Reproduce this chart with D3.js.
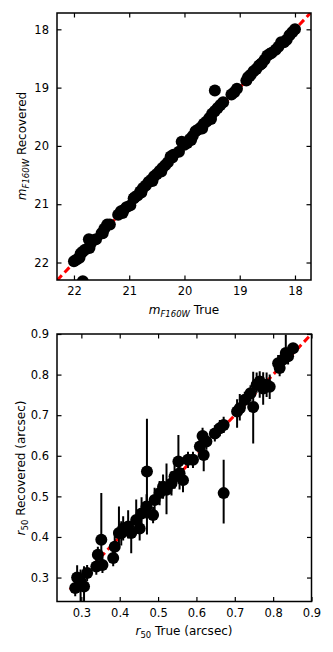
<!DOCTYPE html>
<html lang="en">
<head>
<meta charset="UTF-8">
<title>Recovered vs True</title>
<style>
  body { margin: 0; background: #fff; }
  svg { display: block; font-family: "DejaVu Sans", sans-serif; }
  .axlabel { font-size: 12px; fill: #000; }
</style>
</head>
<body>
<svg id="chart" width="333" height="652"></svg>
<script src="https://cdn.jsdelivr.net/npm/d3@7"></script>
<script>
// top panel: magnitudes (true, recovered)
const magTrue = [22.0, 21.95, 21.88, 21.85, 21.8, 21.73, 21.72, 21.7, 21.65, 21.5, 21.45, 21.4, 21.35,
  21.2, 21.15, 21.1, 21.05, 20.98, 20.9, 20.85, 20.8, 20.75, 20.7, 20.65, 20.6, 20.55, 20.5, 20.45,
  20.4, 20.35, 20.3, 20.25, 20.2, 20.1, 20.05, 20.0, 19.95, 19.9, 19.85, 19.8, 19.75, 19.7, 19.65,
  19.6, 19.55, 19.5, 19.45, 19.4, 19.35, 19.3, 19.45, 19.15, 19.1, 19.05, 18.88, 18.85, 18.8, 18.75,
  18.7, 18.65, 18.6, 18.55, 18.5, 18.45, 18.35, 18.3, 18.2, 18.15, 18.1, 18.05, 18.0, 21.84,
  21.9, 21.6, 21.48, 21.12, 20.92, 20.78, 20.58, 20.42, 20.22, 19.88, 19.68, 19.52, 18.82, 18.62, 18.42, 18.25];
const magRec = [21.98, 21.95, 21.85, 21.82, 21.78, 21.6, 21.75, 21.68, 21.62, 21.5, 21.42, 21.35, 21.35,
  21.18, 21.12, 21.1, 21.05, 21.02, 20.88, 20.85, 20.78, 20.72, 20.68, 20.62, 20.58, 20.52, 20.48, 20.43,
  20.38, 20.33, 20.28, 20.18, 20.15, 20.1, 19.93, 19.98, 19.95, 19.88, 19.83, 19.75, 19.72, 19.68, 19.62,
  19.58, 19.52, 19.45, 19.4, 19.35, 19.3, 19.25, 19.05, 19.12, 19.08, 19.02, 18.88, 18.82, 18.78, 18.72,
  18.68, 18.62, 18.58, 18.52, 18.45, 18.42, 18.35, 18.3, 18.22, 18.18, 18.1, 18.05, 18.0, 22.32,
  21.92, 21.6, 21.5, 21.15, 20.9, 20.8, 20.6, 20.44, 20.2, 19.9, 19.7, 19.54, 18.8, 18.6, 18.4, 18.22];
const magTicks = [22, 21, 20, 19, 18];

// bottom panel: half-light radius (true, recovered, error below, error above)
const rTrue = [0.284, 0.289, 0.298, 0.307, 0.315, 0.339, 0.343, 0.352, 0.355, 0.383, 0.387, 0.398, 0.404,
  0.409, 0.422, 0.43, 0.443, 0.452, 0.457, 0.47, 0.471, 0.487, 0.491, 0.504, 0.513, 0.522, 0.535, 0.543,
  0.553, 0.556, 0.565, 0.578, 0.591, 0.609, 0.616, 0.619, 0.626, 0.648, 0.661, 0.671, 0.671, 0.706,
  0.713, 0.726, 0.741, 0.748, 0.757, 0.765, 0.774, 0.783, 0.791, 0.813, 0.817, 0.826, 0.833, 0.839, 0.852];
const rRec = [0.274, 0.300, 0.290, 0.278, 0.311, 0.327, 0.356, 0.393, 0.331, 0.348, 0.376, 0.410, 0.409,
  0.421, 0.426, 0.410, 0.442, 0.421, 0.458, 0.475, 0.561, 0.454, 0.491, 0.508, 0.524, 0.516, 0.532, 0.549,
  0.586, 0.557, 0.540, 0.590, 0.590, 0.623, 0.649, 0.602, 0.635, 0.655, 0.668, 0.508, 0.676, 0.709,
  0.717, 0.738, 0.754, 0.720, 0.775, 0.783, 0.766, 0.775, 0.770, 0.828, 0.816, 0.837, 0.853, 0.845, 0.865];
const rErrLo = [0.02, 0.03, 0.06, 0.04, 0.02, 0.02, 0.02, 0.06, 0.02, 0.02, 0.03, 0.04, 0.03,
  0.03, 0.03, 0.05, 0.03, 0.03, 0.03, 0.03, 0.155, 0.02, 0.03, 0.03, 0.03, 0.06, 0.03, 0.03,
  0.05, 0.04, 0.03, 0.02, 0.02, 0.02, 0.02, 0.04, 0.02, 0.02, 0.02, 0.075, 0.02, 0.04,
  0.03, 0.02, 0.02, 0.09, 0.02, 0.04, 0.04, 0.03, 0.03, 0.02, 0.02, 0.02, 0.02, 0.02, 0.01];
const rErrHi = [0.02, 0.03, 0.03, 0.05, 0.02, 0.02, 0.02, 0.115, 0.02, 0.03, 0.04, 0.065, 0.03,
  0.03, 0.04, 0.03, 0.05, 0.03, 0.04, 0.03, 0.13, 0.02, 0.03, 0.03, 0.03, 0.065, 0.03, 0.03,
  0.065, 0.03, 0.03, 0.02, 0.02, 0.02, 0.02, 0.02, 0.02, 0.02, 0.02, 0.082, 0.02, 0.03,
  0.035, 0.02, 0.02, 0.087, 0.03, 0.025, 0.04, 0.03, 0.03, 0.02, 0.02, 0.02, 0.045, 0.02, 0.01];
const rTicks = [0.3, 0.4, 0.5, 0.6, 0.7, 0.8, 0.9];

// extent of the dashed one-to-one line in each panel
const magLine = [22.307, 17.71];
const rLine = [0.27, 0.9];

const svg = d3.select("#chart");

function drawPanel(cfg) {
  const { left, right, top, bottom, xDomain, yDomain, ticks, fmt, id, line } = cfg;
  const x = d3.scaleLinear().domain(xDomain).range([left, right]);
  const y = d3.scaleLinear().domain(yDomain).range([bottom, top]);

  svg.append("clipPath").attr("id", id)
    .append("rect").attr("x", left).attr("y", top)
    .attr("width", right - left).attr("height", bottom - top);

  const g = svg.append("g").attr("clip-path", `url(#${id})`);

  // one-to-one line
  g.append("line")
    .attr("x1", x(line[0])).attr("y1", y(line[0]))
    .attr("x2", x(line[1])).attr("y2", y(line[1]))
    .attr("stroke", "#ff0000").attr("stroke-width", 3)
    .attr("stroke-dasharray", "7,4");

  // axes with inward ticks on all sides
  const tickLen = 4.5;
  svg.append("g").attr("class", "axis").attr("transform", `translate(0,${bottom})`)
    .call(d3.axisBottom(x).tickValues(ticks).tickFormat(fmt).tickSizeInner(-tickLen).tickSizeOuter(0).tickPadding(7));
  svg.append("g").attr("class", "axis").attr("transform", `translate(0,${top})`)
    .call(d3.axisTop(x).tickValues(ticks).tickFormat("").tickSizeInner(-tickLen).tickSizeOuter(0));
  svg.append("g").attr("class", "axis").attr("transform", `translate(${left},0)`)
    .call(d3.axisLeft(y).tickValues(ticks).tickFormat(fmt).tickSizeInner(-tickLen).tickSizeOuter(0).tickPadding(8));
  svg.append("g").attr("class", "axis").attr("transform", `translate(${right},0)`)
    .call(d3.axisRight(y).tickValues(ticks).tickFormat("").tickSizeInner(-tickLen).tickSizeOuter(0));

  svg.selectAll(".axis .domain").remove();
  svg.selectAll(".axis line").attr("stroke", "#000").attr("stroke-width", 1.2);
  svg.selectAll(".axis text").attr("font-family", "DejaVu Sans").attr("font-size", "11.5px").attr("fill", "#000");

  svg.append("rect").attr("x", left).attr("y", top)
    .attr("width", right - left).attr("height", bottom - top)
    .attr("fill", "none").attr("stroke", "#000").attr("stroke-width", 1.5);

  return { x, y, g };
}

// top panel
const p1 = drawPanel({
  id: "clipTop", left: 57, right: 311, top: 13, bottom: 280,
  xDomain: [22.307, 17.71], yDomain: [22.30, 17.72],
  ticks: magTicks, fmt: d3.format("d"), line: magLine
});
p1.g.selectAll("circle.mag")
  .data(magTrue.map((d, i) => [d, magRec[i]]))
  .join("circle").attr("class", "mag")
  .attr("cx", d => p1.x(d[0])).attr("cy", d => p1.y(d[1]))
  .attr("r", 6).attr("fill", "#000");

// bottom panel
const p2 = drawPanel({
  id: "clipBot", left: 57, right: 311.5, top: 334, bottom: 601.5,
  xDomain: [0.2365, 0.9], yDomain: [0.241, 0.9],
  ticks: rTicks, fmt: d3.format(".1f"), line: rLine
});
const rData = rTrue.map((d, i) => ({ t: d, r: rRec[i], lo: rErrLo[i], hi: rErrHi[i] }));
p2.g.selectAll("line.err")
  .data(rData).join("line").attr("class", "err")
  .attr("x1", d => p2.x(d.t)).attr("x2", d => p2.x(d.t))
  .attr("y1", d => p2.y(d.r - d.lo)).attr("y2", d => p2.y(d.r + d.hi))
  .attr("stroke", "#000").attr("stroke-width", 2);
p2.g.selectAll("circle.rad")
  .data(rData).join("circle").attr("class", "rad")
  .attr("cx", d => p2.x(d.t)).attr("cy", d => p2.y(d.r))
  .attr("r", 6).attr("fill", "#000");

// axis labels
function magLabel(sel, suffix) {
  sel.append("tspan").attr("font-style", "italic").text("m");
  sel.append("tspan").attr("font-style", "italic").attr("font-size", "8.5px").attr("dy", 3).text("F160W");
  sel.append("tspan").attr("dy", -3).text(" " + suffix);
}
function radLabel(sel, suffix) {
  sel.append("tspan").attr("font-style", "italic").text("r");
  sel.append("tspan").attr("font-size", "8.5px").attr("dy", 3).text("50");
  sel.append("tspan").attr("dy", -3).text(" " + suffix);
}

svg.append("text").attr("class", "axlabel").attr("text-anchor", "middle")
  .attr("x", 184).attr("y", 314).call(magLabel, "True");
svg.append("text").attr("class", "axlabel").attr("text-anchor", "middle")
  .attr("transform", "translate(26,146) rotate(-90)").call(magLabel, "Recovered");

svg.append("text").attr("class", "axlabel").attr("text-anchor", "middle")
  .attr("x", 184).attr("y", 635).call(radLabel, "True (arcsec)");
svg.append("text").attr("class", "axlabel").attr("text-anchor", "middle")
  .attr("transform", "translate(25,468) rotate(-90)").call(radLabel, "Recovered (arcsec)");
</script>
</body>
</html>
